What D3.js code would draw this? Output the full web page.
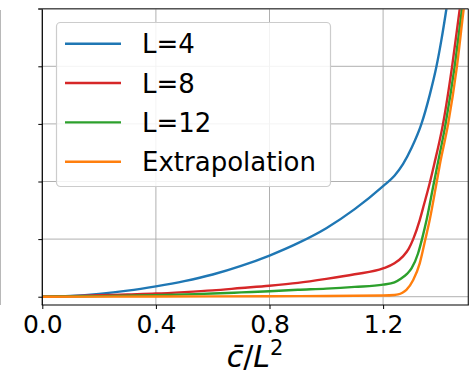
<!DOCTYPE html>
<html>
<head>
<meta charset="utf-8">
<script src="https://cdn.jsdelivr.net/npm/d3@7"></script>
<style>
  html, body { margin: 0; padding: 0; background: #fff; }
  svg { display: block; font-family: "DejaVu Sans", sans-serif; }
</style>
</head>
<body>
<svg id="chart" width="470" height="372"></svg>
<script>
// Sampled curves: x = c̄/L², y = response for each system size
const xL4  = [0, 0.1, 0.2, 0.3, 0.4, 0.5, 0.6, 0.7, 0.8, 0.9, 1.0, 1.1, 1.2, 1.24, 1.27, 1.3, 1.335, 1.364, 1.388, 1.405, 1.423, 1.435];
const yL4  = [0, 0.015, 0.05, 0.105, 0.18, 0.27, 0.385, 0.535, 0.715, 0.93, 1.19, 1.52, 1.92, 2.10, 2.30, 2.58, 3.0, 3.5, 4.0, 4.45, 5.0, 5.4];

const xL8  = [0, 0.1, 0.2, 0.3, 0.4, 0.5, 0.6, 0.7, 0.8, 0.9, 1.0, 1.1, 1.2, 1.24, 1.27, 1.29, 1.306, 1.329, 1.344, 1.364, 1.38, 1.411, 1.443, 1.47, 1.485];
const yL8  = [0, 0.01, 0.025, 0.04, 0.055, 0.08, 0.11, 0.15, 0.19, 0.24, 0.31, 0.39, 0.49, 0.58, 0.70, 0.83, 1.0, 1.33, 1.6, 1.97, 2.3, 3.0, 4.0, 5.0, 5.55];

const xL12 = [0, 0.1, 0.2, 0.3, 0.4, 0.5, 0.6, 0.7, 0.8, 0.9, 1.0, 1.1, 1.2, 1.24, 1.265, 1.285, 1.3, 1.323, 1.337, 1.353, 1.377, 1.39, 1.42, 1.452, 1.478, 1.495];
const yL12 = [0, 0.005, 0.01, 0.018, 0.025, 0.04, 0.055, 0.075, 0.095, 0.12, 0.14, 0.17, 0.21, 0.25, 0.32, 0.40, 0.49, 0.75, 1.0, 1.33, 1.93, 2.25, 3.0, 4.0, 5.0, 5.65];

const xExt = [0, 0.4, 0.8, 1.0, 1.2, 1.24, 1.253, 1.268, 1.282, 1.306, 1.329, 1.349, 1.364, 1.388, 1.4, 1.429, 1.46, 1.484, 1.5];
const yExt = [0, 0.003, 0.008, 0.012, 0.02, 0.03, 0.04, 0.07, 0.12, 0.29, 0.58, 1.0, 1.33, 1.97, 2.3, 3.0, 4.0, 5.0, 5.6];

const seriesNames  = ["L=4", "L=8", "L=12", "Extrapolation"];
const seriesColors = ["#1f77b4", "#d62728", "#2ca02c", "#ff7f0e"];
const seriesX = [xL4, xL8, xL12, xExt];
const seriesY = [yL4, yL8, yL12, yExt];

const xTickValues = [0, 0.4, 0.8, 1.2];
const xTickLabels = ["0.0", "0.4", "0.8", "1.2"];
const yTickValues = [0, 1, 2, 3, 4, 5];

// Plot frame
const frame = { left: 42.3, right: 468.3, top: 8.7, bottom: 305 };

const svg = d3.select("#chart");

const x = d3.scaleLinear().domain([0, 1.5]).range([frame.left, frame.right]);
const y = d3.scaleLinear().domain([-0.144, 5.0]).range([frame.bottom, frame.top]);

// Thin rule at the far left edge
svg.append("line")
  .attr("x1", 0.5).attr("x2", 0.5).attr("y1", 10).attr("y2", frame.bottom)
  .attr("stroke", "#b8b8b8").attr("stroke-width", 1);

// Grid
const grid = svg.append("g").attr("stroke", "#b0b0b0").attr("stroke-width", 1);
grid.selectAll("line.gx").data(xTickValues).join("line")
  .attr("class", "gx")
  .attr("x1", d => x(d)).attr("x2", d => x(d))
  .attr("y1", frame.top).attr("y2", frame.bottom);
grid.selectAll("line.gy").data(yTickValues).join("line")
  .attr("class", "gy")
  .attr("x1", frame.left).attr("x2", frame.right)
  .attr("y1", d => y(d)).attr("y2", d => y(d));

// Curves
svg.append("clipPath").attr("id", "plotclip")
  .append("rect").attr("x", frame.left).attr("y", frame.top)
  .attr("width", frame.right - frame.left).attr("height", frame.bottom - frame.top);

const line = d3.line()
  .x(d => x(d[0])).y(d => y(d[1]))
  .curve(d3.curveMonotoneX);

const curves = svg.append("g").attr("clip-path", "url(#plotclip)");
seriesNames.forEach((name, i) => {
  const pts = seriesX[i].map((xv, j) => [xv, seriesY[i][j]]);
  curves.append("path")
    .datum(pts)
    .attr("d", line)
    .attr("fill", "none")
    .attr("stroke", seriesColors[i])
    .attr("stroke-width", 2.4)
    .attr("stroke-linejoin", "round")
    .attr("stroke-linecap", "butt");
});

// Axes
const xAxis = d3.axisBottom(x)
  .tickValues(xTickValues)
  .tickFormat((d, i) => xTickLabels[i])
  .tickSize(4).tickSizeOuter(0).tickPadding(6);
const gx = svg.append("g").attr("transform", `translate(0,${frame.bottom})`).call(xAxis);
gx.select(".domain").remove();
gx.selectAll(".tick line").attr("stroke", "#000").attr("stroke-width", 1);
gx.selectAll(".tick text")
  .attr("font-family", "DejaVu Sans").attr("font-size", 25).attr("fill", "#000")
  .attr("dy", null).attr("y", 28.3);

const yAxis = d3.axisLeft(y)
  .tickValues(yTickValues)
  .tickFormat("")
  .tickSize(4).tickSizeOuter(0);
const gy = svg.append("g").attr("transform", `translate(${frame.left},0)`).call(yAxis);
gy.select(".domain").remove();
gy.selectAll(".tick line").attr("stroke", "#000").attr("stroke-width", 1);

// Spines
svg.append("line").attr("x1", frame.left).attr("x2", frame.left).attr("y1", frame.top).attr("y2", frame.bottom)
  .attr("stroke", "#000").attr("stroke-width", 1.2);
svg.append("line").attr("x1", frame.left - 0.6).attr("x2", frame.right + 0.6).attr("y1", frame.bottom).attr("y2", frame.bottom)
  .attr("stroke", "#000").attr("stroke-width", 1.2);
svg.append("line").attr("x1", frame.left - 4).attr("x2", frame.right).attr("y1", frame.top).attr("y2", frame.top)
  .attr("stroke", "#555").attr("stroke-width", 1.4);
svg.append("line").attr("x1", frame.right).attr("x2", frame.right).attr("y1", frame.top).attr("y2", frame.bottom)
  .attr("stroke", "#222").attr("stroke-width", 1.2);

// Axis title: c̄/L²
const title = svg.append("text")
  .attr("x", 255).attr("y", 367)
  .attr("text-anchor", "middle")
  .attr("font-family", "DejaVu Sans")
  .attr("font-size", 30)
  .attr("fill", "#000");
title.append("tspan").attr("font-style", "italic").text("c\u0304");
title.append("tspan").text("/");
title.append("tspan").attr("font-style", "italic").text("L");
title.append("tspan").attr("font-size", 21).attr("dy", -12).text("2");

// Legend
const legX = 56, legY = 22, legW = 274, legH = 164;
const legend = svg.append("g");
legend.append("rect")
  .attr("x", legX + 0.5).attr("y", legY + 0.5)
  .attr("width", legW).attr("height", legH)
  .attr("rx", 4).attr("ry", 4)
  .attr("fill", "#fff").attr("fill-opacity", 0.85)
  .attr("stroke", "#cccccc").attr("stroke-width", 1.2);

const rowY = d3.scaleLinear().domain([0, 3]).range([43.7, 161.7]);
seriesNames.forEach((name, i) => {
  const ry = rowY(i);
  legend.append("line")
    .attr("x1", 65).attr("x2", 121)
    .attr("y1", ry).attr("y2", ry)
    .attr("stroke", seriesColors[i]).attr("stroke-width", 2.4);
  legend.append("text")
    .attr("x", 142).attr("y", ry + 9.6)
    .attr("font-family", "DejaVu Sans").attr("font-size", 26)
    .attr("fill", "#000")
    .text(name);
});
</script>
</body>
</html>
